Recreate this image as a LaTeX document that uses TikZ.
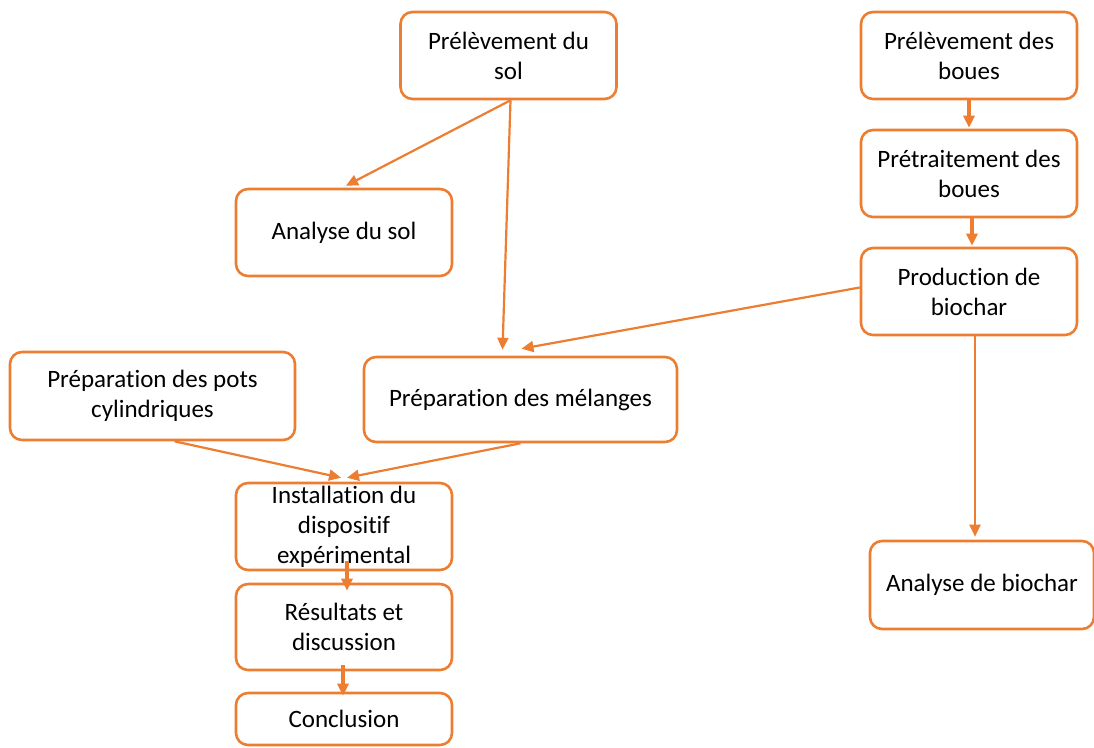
\documentclass[tikz,border=0pt]{standalone}
\usepackage{fontspec}
\setmainfont[Ligatures=NoCommon]{Carlito}
\usetikzlibrary{arrows.meta}
\definecolor{boxorange}{HTML}{ED7D31}

\begin{document}
\begin{tikzpicture}[x=1pt,y=-1pt,>={Triangle[length=12pt,width=11pt]},box/.style={draw=boxorange,line width=2.6pt,rounded corners=12pt,align=center,minimum width=216pt,minimum height=87pt,inner sep=0pt,font=\fontsize{25}{30}\selectfont},arrow/.style={->,draw=boxorange,fill=boxorange,line width=2.2pt},thickarrow/.style={->,draw=boxorange,fill=boxorange,line width=4.5pt}]
\useasboundingbox (0,0) rectangle (1094,747);
\node[box] (sol) at (508.5,55.5) {Prélèvement du\\sol}; \node[box] (boues) at (969,55.5) {Prélèvement des\\boues};
\node[box] (pretrait) at (969,173.5) {Prétraitement des\\boues}; \node[box] (prod) at (969,291.5) {Production de\\biochar};
\node[box] (anasol) at (344,232.5) {Analyse du sol};
\node[box,minimum width=313pt,minimum height=85pt] (melange) at (520.5,399.5) {Préparation des mélanges};
\node[box,minimum width=285pt,minimum height=88pt] (pots) at (152.5,396) {Préparation des pots\\cylindriques};
\node[box] (install) at (344,526.5) {Installation du\\dispositif\\expérimental};
\node[box,minimum height=86pt] (result) at (344,627) {Résultats et\\discussion};
\node[box,minimum height=52pt] (concl) at (344,719) {Conclusion};
\node[box,minimum width=224pt,minimum height=88pt] (anabio) at (982,585) {Analyse de biochar};
\draw[arrow] ([xshift=2pt]sol.south)--([xshift=2pt,yshift=2pt]anasol.north); \draw[arrow] ([xshift=2pt]sol.south)--([xshift=-18pt,yshift=6pt]melange.north);
\draw[arrow] ([yshift=4pt]prod.west)--([xshift=1pt,yshift=7pt]melange.north);
\draw[thickarrow] (boues.south)--([yshift=1pt]pretrait.north); \draw[thickarrow] ([xshift=3pt]pretrait.south)--([xshift=3pt,yshift=1pt]prod.north);
\draw[arrow] ([xshift=6pt]prod.south)--([xshift=-7pt,yshift=3pt]anabio.north);
\draw[arrow] ([xshift=22pt]pots.south)--([xshift=-3pt,yshift=4pt]install.north); \draw[arrow] (melange.south)--([xshift=3pt,yshift=4pt]install.north);
\draw[thickarrow] ([xshift=3pt,yshift=10pt]install.south)--([xshift=3pt,yshift=-8pt]result.north); \draw[thickarrow] ([xshift=-1pt,yshift=6pt]result.south)--([xshift=-1pt,yshift=-4pt]concl.north);
\end{tikzpicture}
\end{document}
